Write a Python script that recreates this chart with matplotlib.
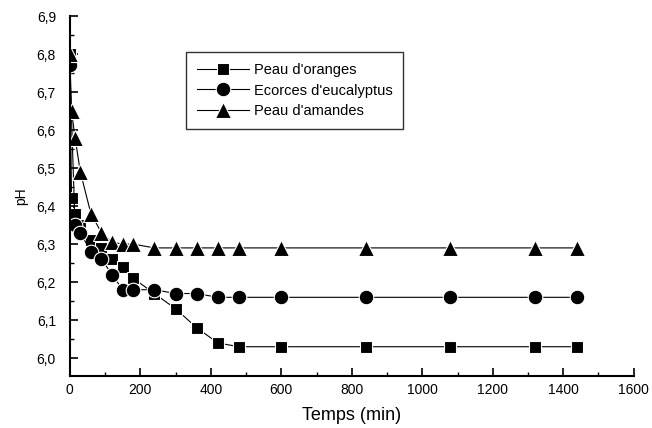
import numpy as np
import matplotlib
matplotlib.use('Agg')
import matplotlib.pyplot as plt
from matplotlib.ticker import MultipleLocator, FuncFormatter

plt.rcParams['font.family'] = 'Liberation Sans'

# Temps de prelevement (min)
temps_oranges = [0, 5, 15, 30, 60, 90, 120, 150, 180, 240, 300, 360, 420, 480, 600, 840, 1080, 1320, 1440]
ph_oranges = [6.80, 6.42, 6.38, 6.35, 6.31, 6.29, 6.26, 6.24, 6.21, 6.17, 6.13, 6.08, 6.04, 6.03, 6.03, 6.03, 6.03, 6.03, 6.03]

temps_eucalyptus = [0, 15, 30, 60, 90, 120, 150, 180, 240, 300, 360, 420, 480, 600, 840, 1080, 1320, 1440]
ph_eucalyptus = [6.77, 6.35, 6.33, 6.28, 6.26, 6.22, 6.18, 6.18, 6.18, 6.17, 6.17, 6.16, 6.16, 6.16, 6.16, 6.16, 6.16, 6.16]

temps_amandes = [0, 5, 15, 30, 60, 90, 120, 150, 180, 240, 300, 360, 420, 480, 600, 840, 1080, 1320, 1440]
ph_amandes = [6.80, 6.65, 6.58, 6.49, 6.38, 6.33, 6.305, 6.30, 6.30, 6.29, 6.29, 6.29, 6.29, 6.29, 6.29, 6.29, 6.29, 6.29, 6.29]

fig = plt.figure(figsize=(6.52, 4.28), dpi=100)
ax = fig.add_axes([0.107, 0.1215, 0.865, 0.841])

# marqueurs avec bord blanc pour laisser un petit espace avec la ligne
style = dict(color='black', linewidth=0.8, markeredgecolor='white', markeredgewidth=0.8)
ax.plot(temps_oranges, ph_oranges, marker='s', markersize=9, label="Peau d'oranges", **style)
ax.plot(temps_eucalyptus, ph_eucalyptus, marker='o', markersize=10.5, label="Ecorces d'eucalyptus", **style)
ax.plot(temps_amandes, ph_amandes, marker='^', markersize=11, label="Peau d'amandes", **style)

ax.set_xlim(0, 1600)
ax.set_ylim(5.953, 6.9)
ax.xaxis.set_major_locator(MultipleLocator(200))
ax.xaxis.set_minor_locator(MultipleLocator(100))
ax.yaxis.set_major_locator(MultipleLocator(0.1))
ax.yaxis.set_minor_locator(MultipleLocator(0.05))
ax.yaxis.set_major_formatter(FuncFormatter(lambda v, p: f'{v:.1f}'.replace('.', ',')))

ax.spines['top'].set_visible(False)
ax.spines['right'].set_visible(False)
ax.spines['left'].set_linewidth(1.5)
ax.spines['bottom'].set_linewidth(1.5)
ax.tick_params(which='major', direction='in', length=6, width=1.2, labelsize=10)
ax.tick_params(which='minor', direction='in', length=3, width=1.0)
ax.tick_params(axis='y', which='major', pad=10)
ax.tick_params(axis='x', which='major', pad=5)

ax.set_xlabel('Temps (min)', fontsize=13, labelpad=7)
ax.set_ylabel('pH', fontsize=10, labelpad=6)

leg = ax.legend(loc='upper left', bbox_to_anchor=(0.285, 0.8785), bbox_transform=fig.transFigure,
                fontsize=10.5, handlelength=3.6, frameon=True, fancybox=False,
                borderpad=0.75, labelspacing=0.45, handletextpad=0.3, borderaxespad=0)
leg.get_frame().set_edgecolor('black')
leg.get_frame().set_linewidth(1.0)

plt.savefig('out.png', dpi=100)
